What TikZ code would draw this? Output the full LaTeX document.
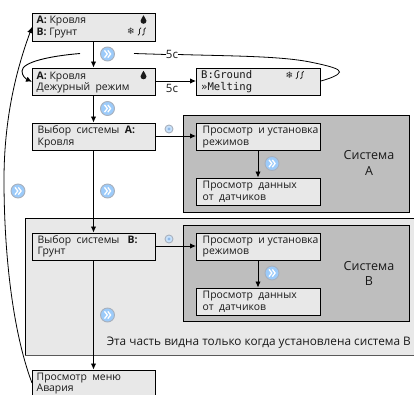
\documentclass[tikz,border=0pt]{standalone}
\usepackage{fontspec}
\setmainfont{Open Sans}
\newfontfamily\lcdfont{DejaVu Sans Mono}
\newfontfamily\symfont{DejaVu Sans}
\usetikzlibrary{arrows.meta}
\definecolor{boxfill}{HTML}{E8E8E8}
\definecolor{sysgray}{HTML}{BEBEBE}
\definecolor{iconblue}{HTML}{9CCBFA}
\definecolor{iconrim}{HTML}{A8B0BC}
\definecolor{icondot}{HTML}{8FB8E8}
\tikzset{
  lcd/.style={draw=black,line width=0.9pt,fill=boxfill,minimum width=123pt,minimum height=27.5pt,inner sep=0pt,anchor=north west},
  lcdtext/.style={anchor=base west,inner sep=0pt,font=\fontsize{10.4}{11}\selectfont,text=black!90},
  lcdmono/.style={anchor=base west,inner sep=0pt,font=\lcdfont\fontsize{10.6}{11}\selectfont,text=black!90},
  flow/.style={line width=0.9pt,-{Latex[length=6pt,width=5.5pt]}},
  plain/.style={line width=0.8pt},
  sysbox/.style={draw=black,line width=0.9pt,fill=sysgray},
  big/.style={anchor=base,inner sep=0pt,font=\fontsize{12.5}{14}\selectfont,text=black!90},
  delay/.style={anchor=base,inner sep=0pt,font=\fontsize{11.5}{12}\selectfont,text=black!90},
  iconnext/.pic={
    \fill[iconblue,draw=iconrim,line width=0.9pt] (0,0) circle (7pt);
    \draw[white,line width=1.3pt] (-3,-3.6) -- (-0.2,0) -- (-3,3.6);
    \draw[white,line width=1.3pt] (0.3,-3.6) -- (3.1,0) -- (0.3,3.6);
  },
  iconset/.pic={
    \fill[iconblue!55!white,draw=iconrim,line width=0.9pt] (0,0) circle (4pt);
    \fill[icondot] (0,0) circle (1.6pt);
  },
  icondrop/.pic={
    \fill[black!90] (0,-4.2) .. controls (0.6,-1.8) and (3,-0.8) .. (3,1.4) .. controls (3,5.2) and (-3,5.2) .. (-3,1.4) .. controls (-3,-0.8) and (-0.6,-1.8) .. (0,-4.2);
  },
  iconwaves/.pic={
    \foreach \dx in {0,4.6}{
      \draw[black!85,line width=0.8pt,xshift=\dx pt] (1.6,-3.8) .. controls (-2.2,-2) and (2.2,2) .. (-1.6,3.8);
    }
  }
}
\begin{document}
\begin{tikzpicture}[x=1pt,y=-1pt]
\useasboundingbox (0,0) rectangle (414,394);
\fill[white] (0,0) rectangle (414,394);
% light panel
\fill[boxfill] (25,218) rectangle (414,356);
\draw[line width=0.9pt] (414,218) -- (25,218) -- (25,355.5);
\draw[black!65,line width=1.4pt] (25,355.5) -- (414,355.5);
% gray systems
\node[sysbox,minimum width=226.5pt,minimum height=97pt,inner sep=0pt,anchor=north west] (sysA) at (182.5,115) {};
\node[sysbox,minimum width=226.5pt,minimum height=96pt,inner sep=0pt,anchor=north west] (sysB) at (182.5,225) {};
% boxes
\node[lcd] (b1) at (32,13) {};
\node[lcd] (b2) at (32,67.5) {};
\node[lcd,minimum width=124pt] (b3) at (196,67.5) {};
\node[lcd] (b4) at (32,122.5) {};
\node[lcd] (b5) at (32,232.5) {};
\node[lcd,minimum height=30pt] (b6) at (32,369.5) {};
\node[lcd,minimum width=124pt] (a1) at (196,122.5) {};
\node[lcd,minimum width=124pt] (a2) at (196,177.5) {};
\node[lcd,minimum width=124pt] (c1) at (196,232.5) {};
\node[lcd,minimum width=124pt] (c2) at (196,287.5) {};
% box texts
\node[lcdtext] (t1a) at (36.5,23.5) {\textbf{A:} Кровля};
\node[lcdtext] (t1b) at (36.5,35) {\textbf{B:} Грунт};
\node[lcdtext] (t2a) at (36.5,79) {\textbf{A:} Кровля};
\node[lcdtext] (t2b) at (36.5,90) {Дежурный\ \ режим};
\node[lcdmono] (t3a) at (201,78.5) {B:Ground};
\node[lcdmono] (t3b) at (201,90) {»Melting};
\node[lcdtext] (t4a) at (37.5,133.5) {Выбор\ \ системы\ \ \textbf{A:}};
\node[lcdtext] (t4b) at (37.5,145) {Кровля};
\node[lcdtext] (t5a) at (37.5,243) {Выбор\ \ системы\ \ \ \textbf{B:}};
\node[lcdtext] (t5b) at (37.5,254) {Грунт};
\node[lcdtext] (t6a) at (36.5,380) {Просмотр\ \ меню};
\node[lcdtext] (t6b) at (36.5,391.5) {Авария};
\node[lcdtext] (ta1a) at (202.5,133.5) {Просмотр\ \ и установка};
\node[lcdtext] (ta1b) at (202.5,145) {режимов};
\node[lcdtext] (ta2a) at (202.5,188) {Просмотр\ \ данных};
\node[lcdtext] (ta2b) at (202.5,200) {от\ \ датчиков};
\node[lcdtext] (tc1a) at (202.5,243) {Просмотр\ \ и установка};
\node[lcdtext] (tc1b) at (202.5,254) {режимов};
\node[lcdtext] (tc2a) at (202.5,298) {Просмотр\ \ данных};
\node[lcdtext] (tc2b) at (202.5,310) {от\ \ датчиков};
% system labels
\node[big] (sa1) at (369,159.5) {Система};
\node[big] (sa2) at (369,175) {А};
\node[big] (sb1) at (369,270) {Система};
\node[big] (sb2) at (369,285.5) {В};
\node[anchor=base east,inner sep=0pt,font=\fontsize{11.8}{13}\selectfont,text=black!90] (note) at (411,345) {Эта часть видна только когда установлена система В};
% symbols
\pic at (143.5,19.5) {icondrop};
\pic at (143.5,75) {icondrop};
\node[inner sep=0pt,font=\symfont\fontsize{9}{9}\selectfont,text=black!85] (sn1) at (131,31.5) {❄};
\pic at (139.5,31.5) {iconwaves};
\node[inner sep=0pt,font=\symfont\fontsize{9}{9}\selectfont,text=black!85] (sn2) at (289.5,75) {❄};
\pic at (297.5,75) {iconwaves};
% connectors
\coordinate (j1) at (80,53.5);
\coordinate (j2) at (134,53.5);
\draw[flow] (b1.south -| 93.5,0) -- (b2.north -| 93.5,0);
\draw[flow] (b2.south -| 93.5,0) -- (b4.north -| 93.5,0);
\draw[flow] (b4.south -| 93.5,0) -- (b5.north -| 93.5,0);
\draw[flow] (b5.south -| 93.5,0) -- (b6.north -| 93.5,0);
\draw[flow] (b2.east |- 0,81) -- (b3.west |- 0,81);
\draw[flow] (b4.east |- 0,136) -- (a1.west |- 0,136);
\draw[flow] (b5.east |- 0,246) -- (c1.west |- 0,246);
\draw[flow] (a1.south -| 258,0) -- (a2.north -| 258,0);
\draw[flow] (c1.south -| 258,0) -- (c2.north -| 258,0);
\draw[flow] (j1) .. controls (50,56) and (22,62) .. (22,71) .. controls (22,76) and (26,79) .. (b2.west);
\node[delay] (l5a) at (172,58.5) {5с};
\node[delay] (l5b) at (172,92) {5с};
\draw[plain] (j2) -- (166,54.5);
\draw[plain] (178,54.5) .. controls (230,56) and (280,56) .. (310,62) .. controls (330,66) and (340,69) .. (339.5,72) .. controls (339,75) and (330,78.5) .. (b3.east |- 0,81);
\draw[flow,line width=0.8pt] (b6.west |- 0,383) .. controls (12,330) and (4,250) .. (4,180) .. controls (4,110) and (20,60) .. (b1.west |- 0,27);
% icons
\pic at (107.5,54) {iconnext};
\pic at (107.5,108.5) {iconnext};
\pic at (107.5,191) {iconnext};
\pic at (18,191) {iconnext};
\pic at (107.5,315) {iconnext};
\pic at (272,163.5) {iconnext};
\pic at (272,273) {iconnext};
\pic at (169,129) {iconset};
\pic at (169,239) {iconset};
\end{tikzpicture}
\end{document}
